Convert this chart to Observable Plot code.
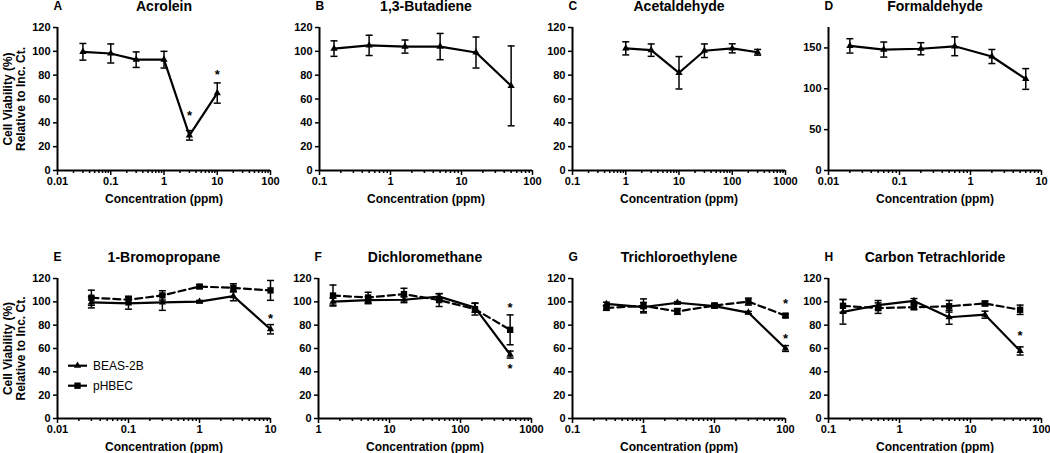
<!DOCTYPE html>
<html>
<head>
<meta charset="utf-8">
<script src="https://cdn.jsdelivr.net/npm/d3@7"></script>
<script src="https://cdn.jsdelivr.net/npm/@observablehq/plot@0.6"></script>
<style>
  html, body { margin: 0; padding: 0; background: #fff; overflow: hidden; }
  #root { position: relative; width: 1050px; height: 453px; font-family: "Liberation Sans", Arial, sans-serif; }
  #root svg { position: absolute; overflow: visible; }
  .legend { position: absolute; }
</style>
</head>
<body>
<div id="root"></div>
<script>
// ---------- data ----------
const seriesNames = ["BEAS-2B", "pHBEC"];

const acroleinConc = [0.03, 0.1, 0.3, 1, 3, 10];
const acroleinMean = [99.6, 98.2, 93, 93, 29.5, 65];
const acroleinErr  = [7, 8, 6.5, 7, 4, 8.5];

const butadieneConc = [0.16, 0.5, 1.6, 5, 16, 50];
const butadieneMean = [102.3, 105, 104, 104, 99, 71];
const butadieneErr  = [6.5, 8.5, 5.5, 11, 13, 33.5];

const acetaldehydeConc = [1, 3, 10, 30, 100, 300];
const acetaldehydeMean = [102.5, 101, 82, 100.5, 102.5, 99.2];
const acetaldehydeErr  = [5.5, 5.2, 13.6, 5.7, 3.8, 2.4];

const formaldehydeConc = [0.02, 0.06, 0.2, 0.6, 2, 6];
const formaldehydeMean = [152.5, 148, 149, 152, 139.5, 112];
const formaldehydeErr  = [8.8, 9.2, 7.4, 11.5, 8.6, 12.7];

const bromopropaneConc = [0.03, 0.1, 0.3, 1, 3, 10];
const bromopropaneBeas = [99.5, 98.7, 99.5, 100.2, 104.9, 76.5];
const bromopropaneBeasErr = [4.7, 5, 6.8, 1, 4, 4];
const bromopropanePh = [103.5, 101.8, 105.5, 113.1, 112, 109.8];
const bromopropanePhErr = [6.5, 3, 4, 1.5, 3.5, 8.5];

const dcmConc = [1.6, 5, 16, 50, 160, 500];
const dcmBeas = [100.2, 101.4, 101.8, 104.5, 95, 54.8];
const dcmBeasErr = [3, 3, 2.5, 2.5, 4, 3];
const dcmPh = [105.4, 103.7, 106.6, 101.5, 93.7, 76];
const dcmPhErr = [9, 4.5, 5, 5.5, 5, 12.8];

const tceConc = [0.3, 1, 3, 10, 30, 100];
const tceBeas = [98.2, 95.5, 99.2, 96.3, 90.8, 60];
const tceBeasErr = [1.5, 4, 1, 1.5, 1, 2.5];
const tcePh = [94.8, 96.5, 91.8, 96.8, 100.2, 88.2];
const tcePhErr = [2, 6, 2.5, 2, 3, 1.5];

const cclConc = [0.16, 0.5, 1.6, 5, 16, 50];
const cclBeas = [91.4, 97.1, 100.8, 86.8, 89, 57.9];
const cclBeasErr = [10.5, 4, 2, 6, 3, 3.5];
const cclPh = [96.6, 94.6, 95.4, 96.2, 98.6, 93.2];
const cclPhErr = [5.5, 4.5, 2, 5, 2, 4];

// significance asterisks (x concentration, y value where the * sits)
const acroleinStarX = [3, 10], acroleinStarY = [49, 84];
const bromopropaneStarX = [10], bromopropaneStarY = [88.5];
const dcmStarX = [500, 500], dcmStarY = [98.5, 46];
const tceStarX = [100, 100], tceStarY = [102, 72];
const cclStarX = [50], cclStarY = [74];

const yTicks120 = [0, 20, 40, 60, 80, 100, 120];
const yTicks150 = [0, 50, 100, 150];

// ---------- helpers ----------
const FONT = "'Liberation Sans', Arial, sans-serif";
const capSymbol = {
  draw(ctx, size) {
    const w = Math.sqrt(size / Math.PI);
    ctx.moveTo(-w, 0); ctx.lineTo(w, 0);
  }
};
function rows(conc, mean, err) {
  return conc.map((x, i) => ({x, y: mean[i], lo: mean[i] - err[i], hi: mean[i] + err[i]}));
}
function stars(xs, ys) { return xs.map((x, i) => ({x, y: ys[i]})); }
function decadesOf([a, b]) {
  const out = [];
  for (let e = Math.round(Math.log10(a)); e <= Math.round(Math.log10(b)); e++) out.push(+(10 ** e).toPrecision(1));
  return out;
}
function minorOf(dec) {
  const out = [];
  for (let i = 0; i < dec.length - 1; i++) for (let k = 2; k <= 9; k++) out.push(k * dec[i]);
  return out;
}

function panel(cfg) {
  const dec = decadesOf(cfg.xDomain);
  const marks = [];
  marks.push(Plot.ruleY([cfg.yDomain[0]], {stroke: "black", strokeWidth: 2}));
  marks.push(Plot.ruleX([cfg.xDomain[0]], {stroke: "black", strokeWidth: 2}));
  marks.push(Plot.axisX({ticks: minorOf(dec), tickSize: 3, tickFormat: () => "", strokeWidth: 1.5, label: null}));
  marks.push(Plot.axisX({ticks: dec, tickSize: 5, tickPadding: 2, tickFormat: d => String(d), strokeWidth: 1.5,
    fontSize: 11, fontWeight: "bold", label: null}));
  marks.push(Plot.axisY({ticks: cfg.yTicks, tickSize: 4, tickPadding: 3, strokeWidth: 1.5,
    fontSize: 11, fontWeight: "bold", label: null}));
  for (const s of cfg.series) {
    const d = rows(s.conc, s.mean, s.err);
    marks.push(Plot.ruleX(d, {x: "x", y1: "lo", y2: "hi", stroke: "black", strokeWidth: 1.5}));
    marks.push(Plot.dot(d, {x: "x", y: "lo", symbol: capSymbol, r: 3.5, stroke: "black", strokeWidth: 1.5, fill: "none"}));
    marks.push(Plot.dot(d, {x: "x", y: "hi", symbol: capSymbol, r: 3.5, stroke: "black", strokeWidth: 1.5, fill: "none"}));
    marks.push(Plot.line(d, {x: "x", y: "y", stroke: "black", strokeWidth: 2.2,
      strokeDasharray: s.dashed ? "7,4" : null}));
    marks.push(Plot.dot(d, {x: "x", y: "y", symbol: s.symbol, r: s.symbol === "square" ? 3.6 : 2.7, fill: "black"}));
  }
  if (cfg.stars) {
    marks.push(Plot.text(cfg.stars, {x: "x", y: "y", text: () => "*", fontSize: 13, fontWeight: "bold", dy: 4, lineAnchor: "middle"}));
  }
  marks.push(Plot.text([cfg.title], {text: d => d, frameAnchor: "top", dy: -21, lineAnchor: "middle", fontSize: 14, fontWeight: "bold"}));
  marks.push(Plot.text([cfg.letter], {text: d => d, frameAnchor: "top-left", dx: -4, dy: -21, textAnchor: "start", lineAnchor: "middle", fontSize: 12, fontWeight: "bold"}));
  marks.push(Plot.text(["Concentration (ppm)"], {text: d => d, frameAnchor: "bottom", dy: 29, lineAnchor: "middle", fontSize: 12, fontWeight: "bold"}));
  if (cfg.yLabel) {
    marks.push(Plot.text([cfg.yLabel], {text: d => d, frameAnchor: "left", dx: -43.5, rotate: -90,
      textAnchor: "middle", lineAnchor: "middle", lineHeight: 1.1, fontSize: 12, fontWeight: "bold"}));
  }
  const svg = Plot.plot({
    width: cfg.width, height: cfg.height,
    marginLeft: 57, marginRight: cfg.width - 57 - 213,
    marginTop: cfg.marginTop, marginBottom: cfg.height - cfg.marginTop - cfg.frameH,
    x: {type: "log", domain: cfg.xDomain},
    y: {domain: cfg.yDomain},
    style: {fontFamily: FONT, fontSize: "11px", color: "black", background: "transparent", overflow: "visible"},
    marks
  });
  svg.style.left = cfg.left + "px";
  svg.style.top = cfg.top + "px";
  return svg;
}

const row1 = {top: 0, marginTop: 27, frameH: 143, height: 215, width: 279};
const row2 = {top: 250, marginTop: 28, frameH: 140, height: 203, width: 279};
const yLab = "Cell Viability (%)\nRelative to Inc. Ct.";

const panels = [
  {...row1, left: 0, letter: "A", title: "Acrolein", xDomain: [0.01, 100], yDomain: [0, 120], yTicks: yTicks120, yLabel: yLab,
    series: [{conc: acroleinConc, mean: acroleinMean, err: acroleinErr, symbol: "triangle"}],
    stars: stars(acroleinStarX, acroleinStarY)},
  {...row1, left: 262, letter: "B", title: "1,3-Butadiene", xDomain: [0.1, 100], yDomain: [0, 120], yTicks: yTicks120,
    series: [{conc: butadieneConc, mean: butadieneMean, err: butadieneErr, symbol: "triangle"}]},
  {...row1, left: 515, letter: "C", title: "Acetaldehyde", xDomain: [0.1, 1000], yDomain: [0, 120], yTicks: yTicks120,
    series: [{conc: acetaldehydeConc, mean: acetaldehydeMean, err: acetaldehydeErr, symbol: "triangle"}]},
  {...row1, left: 771, letter: "D", title: "Formaldehyde", xDomain: [0.01, 10], yDomain: [0, 175], yTicks: yTicks150,
    series: [{conc: formaldehydeConc, mean: formaldehydeMean, err: formaldehydeErr, symbol: "triangle"}]},
  {...row2, left: 0, letter: "E", title: "1-Bromopropane", xDomain: [0.01, 10], yDomain: [0, 120], yTicks: yTicks120, yLabel: yLab,
    series: [
      {conc: bromopropaneConc, mean: bromopropanePh, err: bromopropanePhErr, symbol: "square", dashed: true},
      {conc: bromopropaneConc, mean: bromopropaneBeas, err: bromopropaneBeasErr, symbol: "triangle"}],
    stars: stars(bromopropaneStarX, bromopropaneStarY)},
  {...row2, left: 261, letter: "F", title: "Dichloromethane", xDomain: [1, 1000], yDomain: [0, 120], yTicks: yTicks120,
    series: [
      {conc: dcmConc, mean: dcmPh, err: dcmPhErr, symbol: "square", dashed: true},
      {conc: dcmConc, mean: dcmBeas, err: dcmBeasErr, symbol: "triangle"}],
    stars: stars(dcmStarX, dcmStarY)},
  {...row2, left: 515, letter: "G", title: "Trichloroethylene", xDomain: [0.1, 100], yDomain: [0, 120], yTicks: yTicks120,
    series: [
      {conc: tceConc, mean: tcePh, err: tcePhErr, symbol: "square", dashed: true},
      {conc: tceConc, mean: tceBeas, err: tceBeasErr, symbol: "triangle"}],
    stars: stars(tceStarX, tceStarY)},
  {...row2, left: 771, letter: "H", title: "Carbon Tetrachloride", xDomain: [0.1, 100], yDomain: [0, 120], yTicks: yTicks120,
    series: [
      {conc: cclConc, mean: cclPh, err: cclPhErr, symbol: "square", dashed: true},
      {conc: cclConc, mean: cclBeas, err: cclBeasErr, symbol: "triangle"}],
    stars: stars(cclStarX, cclStarY)}
];

const root = document.getElementById("root");
for (const p of panels) root.appendChild(panel(p));

// legend (inside panel E)
const legend = d3.select(root).append("svg").attr("class", "legend")
  .attr("width", 110).attr("height", 44).style("left", "60px").style("top", "355px");
const symbols = [d3.symbolTriangle, d3.symbolSquare];
const sizes = [Math.PI * 2.7 * 2.7, Math.PI * 3.6 * 3.6];
seriesNames.forEach((name, i) => {
  const g = legend.append("g").attr("transform", `translate(0,${10.7 + i * 20})`);
  g.append("line").attr("x1", 8).attr("x2", 27).attr("stroke", "black").attr("stroke-width", 2.2);
  g.append("path").attr("d", d3.symbol(symbols[i], sizes[i])()).attr("transform", "translate(17.5,0)").attr("fill", "black");
  g.append("text").attr("x", 33).attr("dy", "0.35em").attr("font-size", 12).attr("font-family", FONT).text(name);
});
</script>
</body>
</html>
